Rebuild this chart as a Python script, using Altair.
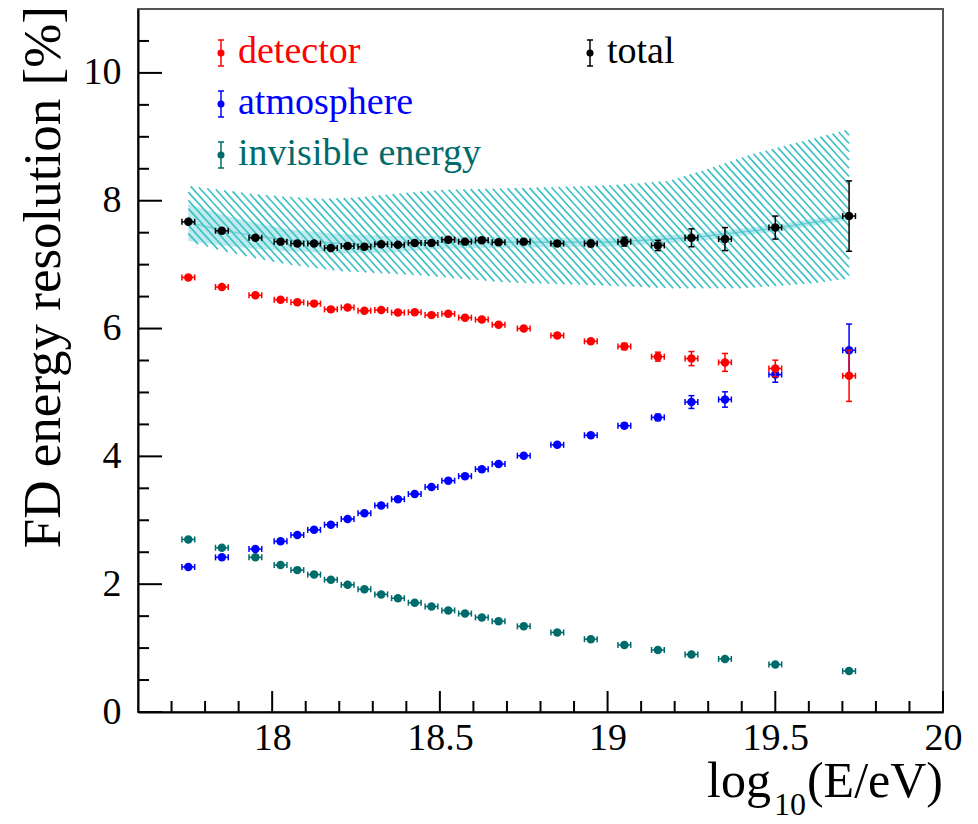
import altair as alt
import numpy as np
import pandas as pd

# ---------------- data ----------------
x_bins = [17.75, 17.85, 17.95, 18.025, 18.075, 18.125, 18.175, 18.225, 18.275,
          18.325, 18.375, 18.425, 18.475, 18.525, 18.575, 18.625, 18.675, 18.75,
          18.85, 18.95, 19.05, 19.15, 19.25, 19.35, 19.5, 19.72]
x_err = [0.019] * 26

total = [7.67, 7.53, 7.42, 7.36, 7.33, 7.33, 7.26, 7.29, 7.28, 7.32, 7.31, 7.34,
         7.34, 7.39, 7.36, 7.38, 7.35, 7.36, 7.33, 7.33, 7.36, 7.30, 7.42, 7.40,
         7.58, 7.76]
total_err = [0.03, 0.03, 0.03, 0.03, 0.03, 0.03, 0.03, 0.03, 0.03, 0.03, 0.03,
             0.03, 0.03, 0.03, 0.03, 0.03, 0.03, 0.03, 0.04, 0.05, 0.07, 0.08,
             0.14, 0.18, 0.18, 0.55]

detector = [6.80, 6.65, 6.52, 6.45, 6.41, 6.39, 6.30, 6.33, 6.28, 6.29, 6.25,
            6.255, 6.21, 6.23, 6.17, 6.14, 6.06, 6.00, 5.89, 5.80, 5.72, 5.56,
            5.53, 5.47, 5.375, 5.26]
detector_err = [0.02, 0.02, 0.02, 0.02, 0.02, 0.02, 0.02, 0.02, 0.02, 0.02, 0.02,
                0.02, 0.02, 0.02, 0.02, 0.02, 0.02, 0.02, 0.03, 0.03, 0.05, 0.07,
                0.11, 0.14, 0.13, 0.40]

atmosphere = [2.27, 2.42, 2.55, 2.67, 2.77, 2.85, 2.93, 3.02, 3.11, 3.23, 3.33,
              3.41, 3.52, 3.62, 3.69, 3.80, 3.88, 4.01, 4.18, 4.33, 4.48, 4.61,
              4.85, 4.89, 5.28, 5.66]
atmosphere_err = [0.02, 0.02, 0.02, 0.02, 0.02, 0.02, 0.02, 0.02, 0.02, 0.02, 0.02,
                  0.02, 0.02, 0.02, 0.02, 0.02, 0.02, 0.02, 0.03, 0.03, 0.04, 0.05,
                  0.10, 0.12, 0.12, 0.41]

invisible = [2.70, 2.57, 2.42, 2.30, 2.22, 2.15, 2.07, 1.99, 1.92, 1.84, 1.78,
             1.71, 1.65, 1.59, 1.54, 1.48, 1.42, 1.34, 1.245, 1.14, 1.05, 0.97,
             0.90, 0.83, 0.745, 0.64]
invisible_err = [0.015] * 26

# systematic band (hatched) edges
band_hi_x = [17.75, 17.85, 17.95, 18.05, 18.15, 18.25, 18.35, 18.5, 18.75, 19.0,
             19.18, 19.3, 19.43, 19.58, 19.72]
band_hi = [8.23, 8.17, 8.10, 8.06, 8.03, 8.05, 8.10, 8.17, 8.20, 8.24, 8.31, 8.50,
           8.73, 8.93, 9.12]
band_lo_x = [17.75, 17.85, 17.95, 18.05, 18.2, 18.45, 18.7, 18.95, 19.2, 19.4,
             19.6, 19.72]
band_lo = [7.36, 7.22, 7.10, 7.00, 6.90, 6.83, 6.72, 6.68, 6.63, 6.63, 6.70, 6.78]

# inner (statistical) band
inner_x = [17.75, 17.85, 17.95, 18.05, 18.2, 18.35, 18.5, 18.75, 19.0, 19.25,
           19.5, 19.72]
inner_c = [7.66, 7.54, 7.45, 7.38, 7.33, 7.32, 7.35, 7.35, 7.35, 7.42, 7.57, 7.75]
inner_hw = [0.29, 0.24, 0.20, 0.17, 0.15, 0.13, 0.10, 0.08, 0.07, 0.06, 0.055, 0.05]

x_major = [18, 18.5, 19, 19.5, 20]
x_minor = [17.7, 17.8, 17.9, 18.1, 18.2, 18.3, 18.4, 18.6, 18.7, 18.8, 18.9,
           19.1, 19.2, 19.3, 19.4, 19.6, 19.7, 19.8, 19.9]
y_major = [0, 2, 4, 6, 8, 10]
y_minor = [0.5, 1, 1.5, 2.5, 3, 3.5, 4.5, 5, 5.5, 6.5, 7, 7.5, 8.5, 9, 9.5, 10.5]

legend_labels = ["detector", "atmosphere", "invisible energy", "total"]
legend_colors = ["#ff0000", "#0000ff", "#006b6b", "#000000"]
legend_col = [0, 0, 0, 1]
legend_row = [0, 1, 2, 0]

# ---------------- styling ----------------
FONT = "Liberation Serif"
W, H = 805, 703
X_DOM = [17.6, 20.0]
Y_DOM = [0, 11]
HATCH = "#40c2c8"

xsc = alt.Scale(domain=X_DOM, nice=False, zero=False)
ysc = alt.Scale(domain=Y_DOM, nice=False, zero=False)
AX = alt.Axis(values=x_major, labelExpr="'' + datum.value", ticks=False, tickSize=0,
              grid=False, domain=True, domainColor="black", domainWidth=2,
              labelFont=FONT, labelFontSize=38, labelColor="black",
              labelPadding=7, labelFlush=False, labelOverlap=False, title=None)
AY = alt.Axis(values=y_major, labelExpr="'' + datum.value", ticks=False, tickSize=0,
              grid=False, domain=True, domainColor="black", domainWidth=2,
              labelFont=FONT, labelFontSize=38, labelColor="black",
              labelPadding=17, labelFlush=False, labelOverlap=False, title=None)


def X(f):
    return alt.X(f, type="quantitative", scale=xsc, axis=AX, title=None)


def Y(f):
    return alt.Y(f, type="quantitative", scale=ysc, axis=AY, title=None)


layers = []

# ---- hatched systematic band: diagonal hatch lines clipped to the band ----
px_per_x = W / (X_DOM[1] - X_DOM[0])
px_per_y = H / (Y_DOM[1] - Y_DOM[0])
m = 1.1 * px_per_x / px_per_y          # slope of hatch lines in data units
spacing_px = 7.5
dc = m * spacing_px / px_per_x
xs = np.linspace(band_hi_x[0], band_hi_x[-1], 4001)
hi = np.interp(xs, band_hi_x, band_hi)
lo = np.interp(xs, band_lo_x, band_lo)
cs = np.arange(lo[0] + m * xs[0], hi[-1] + m * xs[-1] + dc, dc)
segs = []
for c in cs:
    line = c - m * xs
    idx = np.where((line <= hi) & (line >= lo))[0]
    if len(idx) > 1:
        a, b = xs[idx[0]], xs[idx[-1]]
        segs.append({"x0": a, "y0": c - m * a, "x1": b, "y1": c - m * b})
hatch_df = pd.DataFrame(segs)
layers.append(
    alt.Chart(hatch_df).mark_rule(color=HATCH, strokeWidth=1.7).encode(
        x=X("x0"), y=Y("y0"), x2=alt.X2("x1"), y2=alt.Y2("y1"))
)

# ---- inner band ----
inner_df = pd.DataFrame({"x": inner_x,
                         "lo": np.array(inner_c) - np.array(inner_hw),
                         "hi": np.array(inner_c) + np.array(inner_hw),
                         "c": inner_c})
layers.append(
    alt.Chart(inner_df).mark_area(color=HATCH, opacity=0.33).encode(
        x=X("x"), y=Y("lo"), y2=alt.Y2("hi"))
)
layers.append(
    alt.Chart(inner_df).mark_line(color=HATCH, strokeWidth=1.5, opacity=0.6).encode(
        x=X("x"), y=Y("c"))
)

# ---- axis ticks (inside the frame) ----
for vals, length in ((x_major, 21), (x_minor, 11)):
    layers.append(
        alt.Chart(pd.DataFrame({"v": vals})).mark_rule(color="black", strokeWidth=2).encode(
            x=X("v"), y=alt.value(H), y2=alt.value(H - length))
    )
for vals, length in ((y_major, 24), (y_minor, 11)):
    layers.append(
        alt.Chart(pd.DataFrame({"v": vals})).mark_rule(color="black", strokeWidth=2).encode(
            y=Y("v"), x=alt.value(0), x2=alt.value(length))
    )


# ---- error-bar series ----
def series(vals, errs, color):
    df = pd.DataFrame({"x": x_bins, "y": vals, "ye": errs, "xe": x_err})
    df["xl"] = df.x - df.xe
    df["xh"] = df.x + df.xe
    df["yl"] = df.y - df.ye
    df["yh"] = df.y + df.ye
    base = alt.Chart(df)
    out = [
        base.mark_rule(color=color, strokeWidth=1.5).encode(
            x=X("xl"), x2=alt.X2("xh"), y=Y("y")),
        base.mark_rule(color=color, strokeWidth=1.5).encode(
            x=X("x"), y=Y("yl"), y2=alt.Y2("yh")),
        base.mark_tick(orient="vertical", size=6, thickness=1.5, color=color,
                       opacity=1).encode(x=X("xl"), y=Y("y")),
        base.mark_tick(orient="vertical", size=6, thickness=1.5, color=color,
                       opacity=1).encode(x=X("xh"), y=Y("y")),
        base.mark_tick(orient="horizontal", size=6, thickness=1.5, color=color,
                       opacity=1).encode(x=X("x"), y=Y("yl")),
        base.mark_tick(orient="horizontal", size=6, thickness=1.5, color=color,
                       opacity=1).encode(x=X("x"), y=Y("yh")),
        base.mark_circle(size=72, color=color, opacity=1).encode(x=X("x"), y=Y("y")),
    ]
    return out


layers += series(total, total_err, legend_colors[3])
layers += series(atmosphere, atmosphere_err, legend_colors[1])
layers += series(invisible, invisible_err, legend_colors[2])
layers += series(detector, detector_err, legend_colors[0])

# ---- legend (manual, ROOT style) ----
for lab, col, c, r in zip(legend_labels, legend_colors, legend_col, legend_row):
    mx = 83 + c * 369
    my = 44 + r * 51
    d = alt.Data(values=[{"label": lab}])
    layers.append(alt.Chart(d).mark_rule(color=col, strokeWidth=1.5).encode(
        x=alt.value(mx), y=alt.value(my - 13), y2=alt.value(my + 13)))
    for dy in (-13, 13):
        layers.append(alt.Chart(d).mark_rule(color=col, strokeWidth=1.5).encode(
            x=alt.value(mx - 3), x2=alt.value(mx + 3), y=alt.value(my + dy)))
    layers.append(alt.Chart(d).mark_circle(color=col, size=50, opacity=1).encode(
        x=alt.value(mx), y=alt.value(my)))
    layers.append(alt.Chart(d).mark_text(font=FONT, fontSize=38, color=col,
                                         align="left", baseline="alphabetic").encode(
        x=alt.value(mx + 17), y=alt.value(my + 10), text=alt.Text("label:N")))


# ---- axis titles ----
def txt(s, size, xv, yv, align, angle=0):
    return alt.Chart(alt.Data(values=[{"t": s}])).mark_text(
        font=FONT, fontSize=size, color="black", align=align,
        baseline="alphabetic", angle=angle).encode(
        x=alt.value(xv), y=alt.value(yv), text=alt.Text("t:N"))


layers.append(txt("(E/eV)", 50, W, 788, "right"))
layers.append(txt("10", 32, 636, 806, "left"))
layers.append(txt("log", 50, 633, 788, "right"))
layers.append(txt("FD energy resolution [%]", 53, -78, -3, "right", angle=270))

chart = alt.layer(*layers).properties(
    width=W, height=H,
    autosize=alt.AutoSizeParams(type="none"),
    padding={"left": 138, "top": 9, "right": 35, "bottom": 112},
).configure_view(stroke="#555555", strokeWidth=2)

chart.save("out.html", embed_options={"renderer": "svg", "actions": False})
